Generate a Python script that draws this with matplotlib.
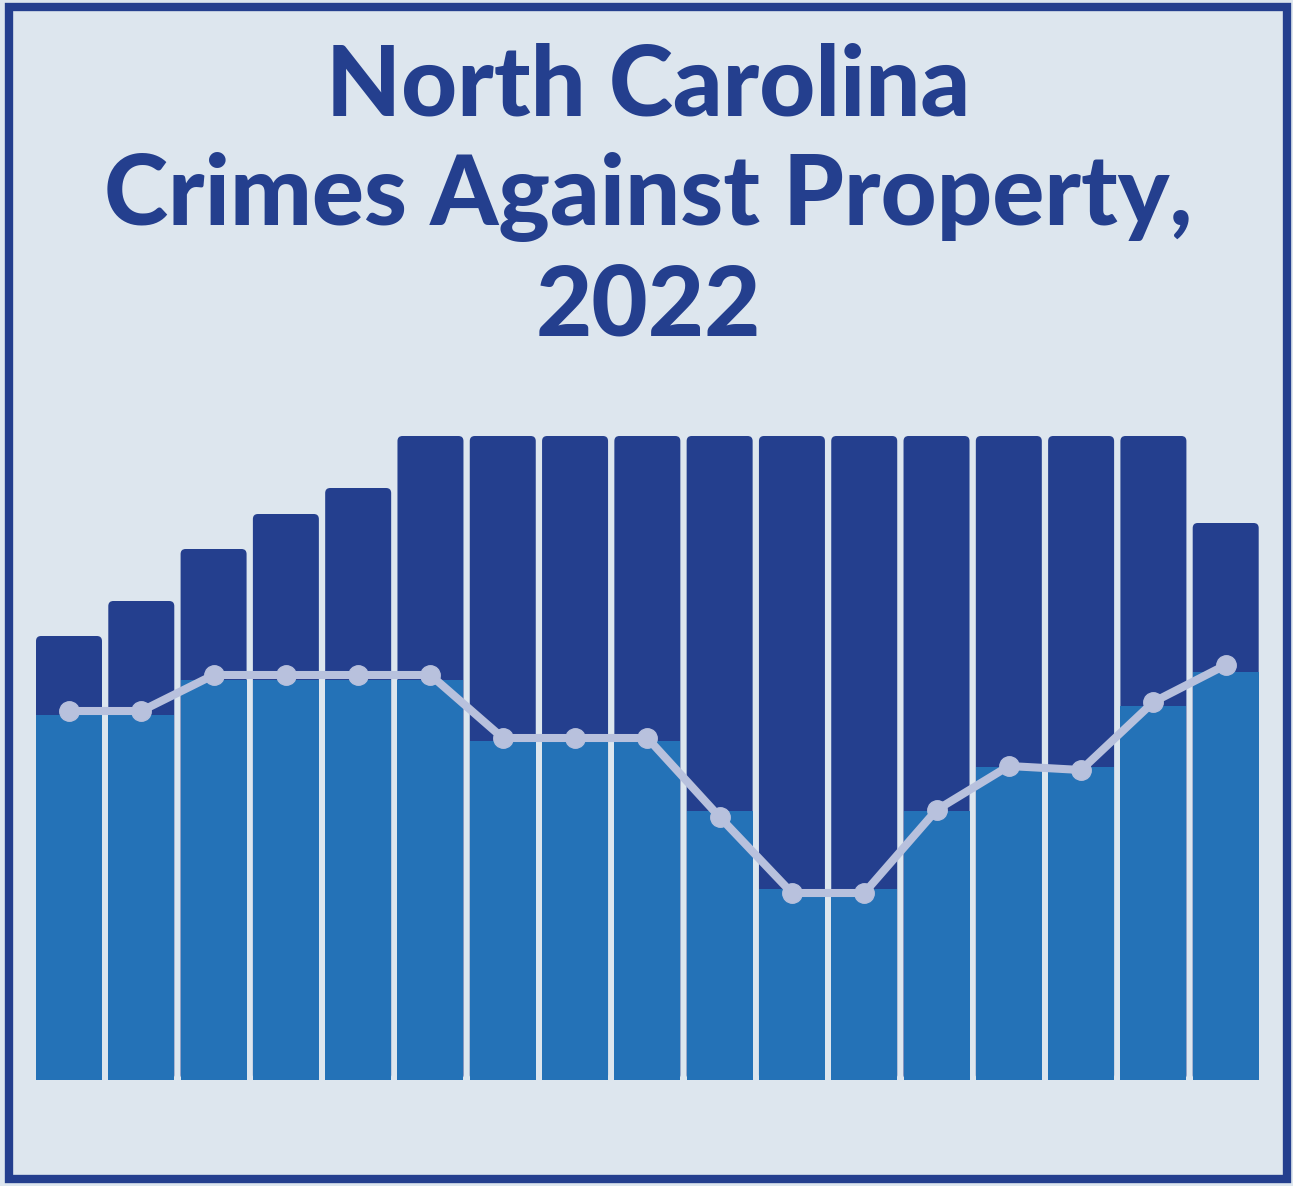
import matplotlib.pyplot as plt
from matplotlib.patches import FancyBboxPatch, Rectangle

NAVY = "#243f8e"
BLUE = "#2472b7"
LINE = "#b8c1dd"
BG = "#dde6ee"

# bar heights (stacked total), lower segment and trend line
totals = [444, 479, 531, 566, 592, 644, 644, 644, 644, 644, 644, 644, 644, 644, 644, 644, 557]
lower = [365, 365, 400, 400, 400, 400, 339, 339, 339, 269, 191, 191, 269, 313, 313, 374, 408]
trend = [369, 369, 405, 405, 405, 405, 342, 342, 342, 263, 187, 187, 270, 314, 310, 378, 415]

W, H = 1293, 1186
fig = plt.figure(figsize=(W / 100, H / 100), dpi=100)
fig.patch.set_facecolor(BG)

# frame
fig.add_artist(Rectangle((9 / W, 7 / H), 1278 / W, 1172 / H, transform=fig.transFigure,
                         fill=False, edgecolor=NAVY, linewidth=6))

ax = fig.add_axes([32.85 / W, 106 / H, 1229 / W, 700 / H])
ax.set_xlim(-0.5, 16.5)
ax.set_ylim(0, 700)
ax.axis("off")

bw = 66 / 72.3
# x unit = 72.3 px, y unit = 1 px
asp = 1 / 72.3
for i, (t, lo) in enumerate(zip(totals, lower)):
    ax.add_patch(FancyBboxPatch((i - bw / 2, 0), bw, t,
                                boxstyle="round,pad=0,rounding_size=0.07",
                                mutation_aspect=1 / asp,
                                facecolor=NAVY, edgecolor="none", zorder=1))
ax.bar(range(len(lower)), lower, width=bw, color=BLUE, zorder=2)
ax.plot(range(len(trend)), trend, color=LINE, linewidth=5.8, marker="o",
        markersize=14, zorder=3, solid_capstyle="round")

title = ["North Carolina", "Crimes Against Property,", "2022"]
for k, line in enumerate(title):
    fig.text(648 / W, 1 - (115 + 110 * k) / H, line, ha="center", va="baseline",
             fontsize=70, fontweight="black", color=NAVY, family="Lato")

fig.savefig("out.png", dpi=100, facecolor=BG)
